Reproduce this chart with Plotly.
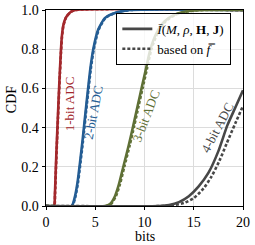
import plotly.graph_objects as go

# ---- data ----
x_1bit = [0, 0.8, 0.9, 1.0, 1.1, 1.2, 1.3, 1.4, 1.5, 1.6, 1.75, 2.0, 2.5, 3.0, 20]
y_1bit = [0, 0, 0.06, 0.2, 0.33, 0.45, 0.57, 0.68, 0.78, 0.86, 0.92, 0.96, 0.99, 1.0, 1.0]
x_1bit_f = [0, 0.82, 0.92, 1.02, 1.12, 1.22, 1.32, 1.42, 1.52, 1.62, 1.77, 2.02, 2.52, 3.0, 20]
y_1bit_f = y_1bit

x_2bit = [0, 2.6, 2.9, 3.2, 3.4, 3.7, 4.1, 4.5, 4.8, 5.3, 6.0, 7.0, 8.5, 20]
y_2bit = [0, 0, 0.04, 0.12, 0.2, 0.33, 0.52, 0.7, 0.8, 0.9, 0.96, 0.985, 1.0, 1.0]
x_2bit_f = [0, 2.65, 2.95, 3.25, 3.45, 3.75, 4.15, 4.55, 4.85, 5.35, 6.05, 7.05, 8.6, 20]
y_2bit_f = y_2bit

x_3bit = [0, 6.0, 6.5, 7.0, 7.4, 7.85, 8.4, 8.86, 9.3, 9.7, 10.15, 10.6, 11.2, 12.0, 13.0, 14.5, 16.0, 20]
y_3bit = [0, 0, 0.01, 0.05, 0.11, 0.2, 0.31, 0.41, 0.51, 0.6, 0.7, 0.8, 0.88, 0.94, 0.975, 0.995, 1.0, 1.0]
x_3bit_f = [0, 6.1, 6.6, 7.1, 7.5, 7.95, 8.5, 8.96, 9.4, 9.8, 10.25, 10.7, 11.3, 12.1, 13.1, 14.6, 16.1, 20]
y_3bit_f = y_3bit

x_4bit = [0, 11.5, 12.5, 13.5, 14.5, 15.5, 16.5, 17.5, 18.4, 19.2, 20]
y_4bit = [0, 0, 0.005, 0.02, 0.05, 0.1, 0.17, 0.28, 0.41, 0.5, 0.59]
x_4bit_f = [0, 12.0, 13.0, 14.0, 15.0, 16.0, 16.8, 17.6, 18.35, 19.2, 20]
y_4bit_f = [0, 0, 0.005, 0.015, 0.04, 0.09, 0.15, 0.23, 0.32, 0.42, 0.51]

labels = ["1-bit ADC", "2-bit ADC", "3-bit ADC", "4-bit ADC"]
label_x = [2.35, 4.85, 10.2, 17.4]
label_y = [0.52, 0.48, 0.46, 0.40]
label_angle = [-90, -79, -69, -62]
colors = ["#a3282c", "#245d94", "#5f7036", "#474747"]

x_ticks = [0, 5, 10, 15, 20]
y_ticks = [0, 0.2, 0.4, 0.6, 0.8, 1.0]

FONT = "Liberation Serif, Times New Roman, Times, serif"

fig = go.Figure()
solids = [(x_1bit, y_1bit), (x_2bit, y_2bit), (x_3bit, y_3bit), (x_4bit, y_4bit)]
dashes = [(x_1bit_f, y_1bit_f), (x_2bit_f, y_2bit_f), (x_3bit_f, y_3bit_f), (x_4bit_f, y_4bit_f)]
for (xs, ys), (xd, yd), c in zip(solids, dashes, colors):
    fig.add_trace(go.Scatter(x=xs, y=ys, mode="lines", showlegend=False, hoverinfo="skip",
                             line=dict(color=c, width=2.6, shape="spline", smoothing=0.6)))
    fig.add_trace(go.Scatter(x=xd, y=yd, mode="lines", showlegend=False, hoverinfo="skip",
                             line=dict(color=c, width=2.6, dash="3px,2px", shape="spline", smoothing=0.6)))

# legend entries
fig.add_trace(go.Scatter(x=[None], y=[None], mode="lines",
                         name="<i>Ī</i>(<i>M</i>, <i>ρ</i>, <b>H</b>, <b>J</b>)",
                         line=dict(color="#474747", width=2.6)))
fig.add_trace(go.Scatter(x=[None], y=[None], mode="lines", name="based on <i>f̿</i>",
                         line=dict(color="#474747", width=2.6, dash="3px,2px")))

for t, x, y, a, c in zip(labels, label_x, label_y, label_angle, colors):
    fig.add_annotation(x=x, y=y, text=t, textangle=a, showarrow=False,
                       font=dict(family=FONT, size=13, color=c))

# axis titles
fig.add_annotation(x=0.5, y=0, xref="paper", yref="paper", yshift=-30, text="bits",
                   showarrow=False, yanchor="middle",
                   font=dict(family=FONT, size=14, color="black"))
fig.add_annotation(x=0, y=0.54, xref="paper", yref="paper", xshift=-35, text="CDF",
                   showarrow=False, textangle=-90, xanchor="center",
                   font=dict(family=FONT, size=14, color="black"))

axis_common = dict(showline=True, linecolor="black", linewidth=1.4, mirror=True,
                   showgrid=True, gridcolor="#dcdcdc", gridwidth=1, zeroline=False,
                   ticks="outside", ticklen=3, tickcolor="black", automargin=False,
                   tickfont=dict(family=FONT, size=14, color="black"))
fig.update_xaxes(range=[0, 20], tickvals=x_ticks, **axis_common)
fig.update_yaxes(range=[0, 1], tickvals=y_ticks, tickformat=".1f", **axis_common)

fig.update_layout(
    width=255, height=245,
    margin=dict(l=46, r=12, t=10, b=39),
    paper_bgcolor="white", plot_bgcolor="white",
    font=dict(family=FONT, size=14, color="black"),
    hovermode=False,
    legend=dict(x=0.357, y=0.985, xanchor="left", yanchor="top",
                bgcolor="rgba(255,255,255,0.8)", bordercolor="black", borderwidth=1,
                font=dict(family=FONT, size=13, color="black"),
                itemwidth=30, tracegroupgap=0),
)

fig.write_html("out.html", config={"displayModeBar": False, "staticPlot": True},
               post_script="document.body.style.margin='0';document.body.style.overflow='hidden';")
